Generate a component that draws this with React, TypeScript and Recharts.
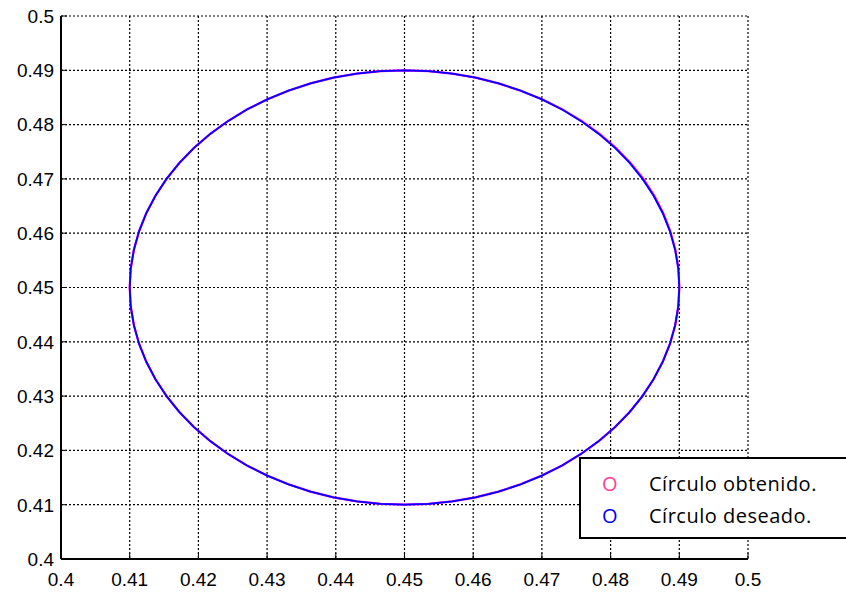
import { ScatterChart, Scatter, XAxis, YAxis, CartesianGrid } from "recharts";

const ticks = [0.4, 0.41, 0.42, 0.43, 0.44, 0.45, 0.46, 0.47, 0.48, 0.49, 0.5];

// desired circle, read every 5 degrees starting at the right side
const desiredX = [
  0.49, 0.48985, 0.48939, 0.48864, 0.48759, 0.48625, 0.48464, 0.48277, 0.48064, 0.47828, 0.47571, 0.47294,
  0.47, 0.4669, 0.46368, 0.46035, 0.45695, 0.45349,
  0.45, 0.44651, 0.44305, 0.43965, 0.43632, 0.4331, 0.43, 0.42706, 0.42429, 0.42172, 0.41936, 0.41723,
  0.41536, 0.41375, 0.41241, 0.41136, 0.41061, 0.41015,
  0.41, 0.41015, 0.41061, 0.41136, 0.41241, 0.41375, 0.41536, 0.41723, 0.41936, 0.42172, 0.42429, 0.42706,
  0.43, 0.4331, 0.43632, 0.43965, 0.44305, 0.44651,
  0.45, 0.45349, 0.45695, 0.46035, 0.46368, 0.4669, 0.47, 0.47294, 0.47571, 0.47828, 0.48064, 0.48277,
  0.48464, 0.48625, 0.48759, 0.48864, 0.48939, 0.48985, 0.49,
];
const desiredY = [
  0.45, 0.45349, 0.45695, 0.46035, 0.46368, 0.4669, 0.47, 0.47294, 0.47571, 0.47828, 0.48064, 0.48277,
  0.48464, 0.48625, 0.48759, 0.48864, 0.48939, 0.48985,
  0.49, 0.48985, 0.48939, 0.48864, 0.48759, 0.48625, 0.48464, 0.48277, 0.48064, 0.47828, 0.47571, 0.47294,
  0.47, 0.4669, 0.46368, 0.46035, 0.45695, 0.45349,
  0.45, 0.44651, 0.44305, 0.43965, 0.43632, 0.4331, 0.43, 0.42706, 0.42429, 0.42172, 0.41936, 0.41723,
  0.41536, 0.41375, 0.41241, 0.41136, 0.41061, 0.41015,
  0.41, 0.41015, 0.41061, 0.41136, 0.41241, 0.41375, 0.41536, 0.41723, 0.41936, 0.42172, 0.42429, 0.42706,
  0.43, 0.4331, 0.43632, 0.43965, 0.44305, 0.44651, 0.45,
];

// obtained circle: same path, drifts slightly outward in the upper right
const obtainedX = [
  0.49, 0.48988, 0.48942, 0.48868, 0.48765, 0.48632, 0.48472, 0.48286, 0.48071, 0.47834, 0.47576, 0.47297,
  0.47002, 0.4669, 0.46368, 0.46035, 0.45695, 0.45349,
  0.45, 0.44651, 0.44305, 0.43965, 0.43632, 0.4331, 0.43, 0.42706, 0.42429, 0.42172, 0.41936, 0.41723,
  0.41536, 0.41375, 0.41241, 0.41136, 0.41061, 0.41015,
  0.41, 0.41015, 0.41061, 0.41136, 0.41241, 0.41375, 0.41536, 0.41723, 0.41936, 0.42172, 0.42429, 0.42706,
  0.43, 0.4331, 0.43632, 0.43965, 0.44305, 0.44651,
  0.45, 0.45349, 0.45695, 0.46035, 0.46368, 0.4669, 0.47, 0.47294, 0.47571, 0.47828, 0.48064, 0.48277,
  0.48464, 0.48625, 0.48759, 0.48866, 0.48941, 0.48986, 0.49,
];
const obtainedY = [
  0.45, 0.45349, 0.45697, 0.46038, 0.46372, 0.46696, 0.47007, 0.473, 0.47577, 0.47833, 0.48068, 0.4828,
  0.48466, 0.48625, 0.48759, 0.48864, 0.48939, 0.48985,
  0.49, 0.48985, 0.48939, 0.48864, 0.48759, 0.48625, 0.48464, 0.48277, 0.48064, 0.47828, 0.47571, 0.47294,
  0.47, 0.4669, 0.46368, 0.46035, 0.45695, 0.45349,
  0.45, 0.44651, 0.44305, 0.43965, 0.43632, 0.4331, 0.43, 0.42706, 0.42429, 0.42172, 0.41936, 0.41723,
  0.41536, 0.41375, 0.41241, 0.41136, 0.41061, 0.41015,
  0.41, 0.41015, 0.41061, 0.41136, 0.41241, 0.41375, 0.41536, 0.41723, 0.41936, 0.42172, 0.42429, 0.42706,
  0.43, 0.4331, 0.43632, 0.43965, 0.44305, 0.44651, 0.45,
];

const desired = desiredX.map((x, i) => ({ x, y: desiredY[i] }));
const obtained = obtainedX.map((x, i) => ({ x, y: obtainedY[i] }));

const FONT = "'Liberation Sans', Arial, sans-serif";
const axisLine = { stroke: "#000", strokeWidth: 2 };
const tickLine = { stroke: "#000", strokeWidth: 1 };
const noLabel = () => "";
const noDot = () => <g />;

const BottomTick = (props: any) => {
  const { x, y, payload } = props;
  return (
    <text x={x} y={y} dy="0.72em" textAnchor="middle" fill="#000" fontSize={19} fontFamily={FONT}>
      {payload.value}
    </text>
  );
};

const LeftTick = (props: any) => {
  const { x, y, payload } = props;
  return (
    <text x={x} y={y} dy="0.36em" textAnchor="end" fill="#000" fontSize={19} fontFamily={FONT}>
      {payload.value}
    </text>
  );
};

export default function App() {
  return (
    <div
      style={{
        position: "absolute",
        left: 0,
        top: 0,
        width: 846,
        height: 593,
        overflow: "hidden",
        background: "#fff",
      }}
    >
      <ScatterChart width={846} height={593} margin={{ top: 16, right: 98, left: 0, bottom: 0 }}>
        <CartesianGrid stroke="#000" strokeWidth={1.2} strokeDasharray="2 2" />
        <XAxis
          type="number"
          dataKey="x"
          domain={[0.4, 0.5]}
          ticks={ticks}
          height={34}
          tick={<BottomTick />}
          tickSize={-6}
          tickMargin={19}
          axisLine={axisLine}
          tickLine={tickLine}
        />
        <XAxis
          xAxisId="top"
          orientation="top"
          type="number"
          domain={[0.4, 0.5]}
          ticks={ticks}
          height={0}
          tickFormatter={noLabel}
          tickSize={-6}
          axisLine={axisLine}
          tickLine={tickLine}
        />
        <YAxis
          type="number"
          dataKey="y"
          domain={[0.4, 0.5]}
          ticks={ticks}
          width={61}
          tick={<LeftTick />}
          tickSize={-6}
          tickMargin={13}
          axisLine={axisLine}
          tickLine={tickLine}
        />
        <YAxis
          yAxisId="right"
          orientation="right"
          type="number"
          domain={[0.4, 0.5]}
          ticks={ticks}
          width={0}
          tickFormatter={noLabel}
          tickSize={-6}
          axisLine={axisLine}
          tickLine={tickLine}
        />
        <Scatter
          data={obtained}
          line={{ stroke: "#ff00ff", strokeWidth: 2.2 }}
          lineType="joint"
          shape={noDot}
          isAnimationActive={false}
        />
        <Scatter
          data={desired}
          line={{ stroke: "#0000ff", strokeWidth: 1.8 }}
          lineType="joint"
          shape={noDot}
          isAnimationActive={false}
        />
      </ScatterChart>
      <div
        style={{
          position: "absolute",
          left: 579,
          top: 457,
          width: 290,
          height: 78,
          border: "2px solid #000",
          background: "#fff",
          fontFamily: "'Open Sans', sans-serif",
          fontSize: 20,
          letterSpacing: 0.5,
          color: "#000",
        }}
      >
        <div style={{ position: "absolute", left: 21, top: 13, lineHeight: "24px" }}>
          <span style={{ color: "#ff3d9a", display: "inline-block", width: 47 }}>O</span>
          <span>Círculo obtenido.</span>
        </div>
        <div style={{ position: "absolute", left: 21, top: 45, lineHeight: "24px" }}>
          <span style={{ color: "#0000ff", display: "inline-block", width: 47 }}>O</span>
          <span>Círculo deseado.</span>
        </div>
      </div>
    </div>
  );
}
